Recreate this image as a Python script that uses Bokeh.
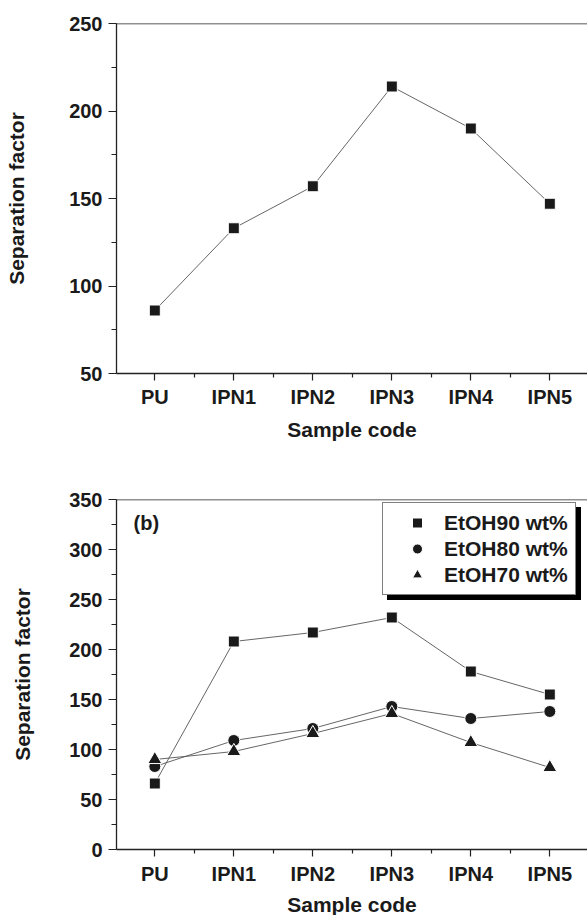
from bokeh.plotting import figure
from bokeh.layouts import column
from bokeh.models import (Range1d, FixedTicker, SingleIntervalTicker, Span, Legend,
                          LegendItem, Label)
from bokeh.embed import file_html
from bokeh.resources import INLINE

# ---- data ----
categories = ["PU", "IPN1", "IPN2", "IPN3", "IPN4", "IPN5"]
sep_factor_a = [86, 133, 157, 214, 190, 147]
etoh90 = [66, 208, 217, 232, 178, 155]
etoh80 = [83, 109, 121, 143, 131, 138]
etoh70 = [90, 98, 116, 136, 107, 82]
series_b = [("EtOH90 wt%", etoh90, "square", 11),
            ("EtOH80 wt%", etoh80, "circle", 12),
            ("EtOH70 wt%", etoh70, "triangle", 14)]
x_label = "Sample code"
y_label = "Separation factor"

xs = list(range(len(categories)))
FONT = "Liberation Sans"
MARK = "#1a1a1a"
LINE = "#555555"
AXIS = "#222222"


def make_fig(y0, y1, top_border, bottom_border, ylab_standoff, xtick_standoff, xlab_standoff):
    p = figure(frame_width=471, frame_height=350,
               min_border_left=116, min_border_right=0,
               min_border_top=top_border, min_border_bottom=bottom_border,
               x_range=Range1d(-0.485, 5.477), y_range=Range1d(y0, y1),
               output_backend="svg", toolbar_location=None,
               background_fill_color="white", border_fill_color="white")
    p.outline_line_color = None
    p.xgrid.visible = False
    p.ygrid.visible = False

    xa = p.xaxis[0]
    xa.ticker = FixedTicker(ticks=xs, minor_ticks=[i + 0.5 for i in xs[:-1]])
    xa.major_label_overrides = {i: c for i, c in zip(xs, categories)}
    xa.major_tick_out = 7
    xa.major_tick_in = 0
    xa.minor_tick_out = 4
    xa.minor_tick_in = 0
    xa.major_label_standoff = xtick_standoff
    xa.axis_label = x_label
    xa.axis_label_standoff = xlab_standoff

    ya = p.yaxis[0]
    ya.ticker = SingleIntervalTicker(interval=50, num_minor_ticks=2)
    ya.major_tick_out = 8
    ya.major_tick_in = 0
    ya.minor_tick_out = 5
    ya.minor_tick_in = 0
    ya.major_label_standoff = 6
    ya.axis_label = y_label
    ya.axis_label_standoff = ylab_standoff

    for ax in (xa, ya):
        ax.axis_line_color = AXIS
        ax.axis_line_width = 1.3
        ax.major_tick_line_color = AXIS
        ax.major_tick_line_width = 1.2
        ax.minor_tick_line_color = AXIS
        ax.minor_tick_line_width = 1.2
        ax.major_label_text_font = FONT
        ax.major_label_text_font_style = "bold"
        ax.major_label_text_font_size = "20px"
        ax.major_label_text_color = "#1a1a1a"
        ax.axis_label_text_font = FONT
        ax.axis_label_text_font_style = "bold"
        ax.axis_label_text_font_size = "21px"
        ax.axis_label_text_color = "#1a1a1a"

    p.add_layout(Span(location=y1, dimension="width", line_color=AXIS, line_width=1.3))
    return p


# ---- panel (a) ----
p1 = make_fig(50, 250, 23, 72, 38, 5, 7)
p1.line(xs, sep_factor_a, line_color=LINE, line_width=0.9)
p1.scatter(xs, sep_factor_a, marker="square", size=11, fill_color=MARK,
           line_color="white", line_width=1)

# ---- panel (b) ----
p2 = make_fig(0, 350, 54, 66, 32, 6, 5)
items = []
shadow_items = []
for name, vals, mk, sz in series_b:
    p2.line(xs, vals, line_color=LINE, line_width=0.9)
for name, vals, mk, sz in series_b:
    r = p2.scatter(xs, vals, marker=mk, size=sz, fill_color=MARK,
                   line_color="white", line_width=1)
    items.append(LegendItem(label=name, renderers=[r]))
    shadow_items.append(LegendItem(label=" ", renderers=[r]))


def make_legend(its, loc, shadow):
    return Legend(items=its, location=loc, orientation="vertical",
                  padding=7, spacing=1, margin=0,
                  glyph_width=54, glyph_height=25, label_standoff=0,
                  label_height=25, label_width=124,
                  label_text_font=FONT, label_text_font_style="bold",
                  label_text_font_size="21px",
                  label_text_color="black" if shadow else "#1a1a1a",
                  border_line_color="black", border_line_width=1,
                  background_fill_color="black" if shadow else "white",
                  background_fill_alpha=1.0)


p2.add_layout(make_legend(shadow_items, (271, 249), True), "center")
p2.add_layout(make_legend(items, (266, 254), False), "center")

p2.add_layout(Label(x=-0.485, y=350, x_offset=17, y_offset=-12, text="(b)",
                    text_baseline="top", text_align="left",
                    text_font=FONT, text_font_style="bold",
                    text_font_size="20px", text_color="#1a1a1a"))

layout = column(p1, p2, spacing=0)
open("out.html", "w").write(file_html(layout, INLINE))
